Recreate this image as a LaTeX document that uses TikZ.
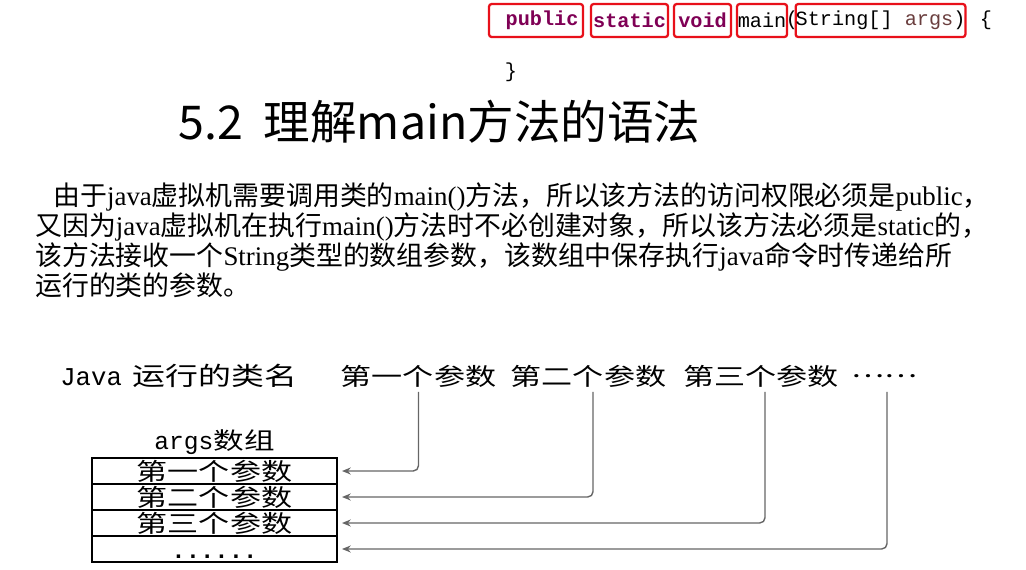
\documentclass[tikz,border=0pt]{standalone}
\usepackage{fontspec}
\setmainfont{Liberation Serif}
\newfontfamily\cjk{Noto Sans CJK SC}
\newfontfamily\cjkwide[FakeStretch=1.3]{Noto Sans CJK SC}
\newfontfamily\codefont{Liberation Mono}
\usetikzlibrary{positioning,arrows.meta}
\definecolor{boxred}{HTML}{E8101A}
\definecolor{kwpurple}{HTML}{7F0055}
\definecolor{argbrown}{HTML}{6A3E3E}
\definecolor{linegray}{HTML}{666666}
\newcommand{\zh}[1]{{\cjk #1}}

\tikzstyle{keybox}=[draw=boxred, line width=1.3pt, rounded corners=1.5pt, inner sep=0pt, minimum height=0.66cm, font=\codefont\fontsize{11.5}{12}\selectfont]
\tikzstyle{codetext}=[inner sep=0pt, font=\codefont\fontsize{11.5}{12}\selectfont]
\tikzstyle{textline}=[anchor=west, inner sep=0pt, font=\fontsize{15.3}{16}\selectfont]
\tikzstyle{colname}=[inner sep=0pt, minimum height=0.62cm, font=\cjkwide\fontsize{13.6}{15}\selectfont]
\tikzstyle{argcell}=[draw, line width=0.8pt, inner sep=0pt, outer sep=0pt, minimum width=4.9cm, text height=0.44cm, text depth=0.08cm, font=\cjkwide\fontsize{13.6}{15}\selectfont]
\tikzstyle{pointto}=[-{Stealth[length=5pt,width=4pt]}, draw=linegray, line width=0.8pt, rounded corners=3pt, shorten >=0.1cm]

\begin{document}
\begin{tikzpicture}[x=0.02cm, y=-0.02cm]
\useasboundingbox (0,0) rectangle (1026,569);
% method signature
\node[keybox, minimum width=1.88cm, text=kwpurple] (pub) at (536,20.5) {\textbf{~public}};
\node[keybox, minimum width=1.54cm, text=kwpurple] (sta) at (629.5,20.5) {\textbf{static}};
\node[keybox, minimum width=1.14cm, text=kwpurple] (voi) at (702.5,20.5) {\textbf{void}};
\node[keybox, minimum width=1.0cm] (mai) at (762,20.5) {main};
\node[codetext] (lpar) at (792,20.5) {(};
\node[keybox, minimum width=3.34cm] (par) at (880.5,20.5) {String[]~\textcolor{argbrown}{args})};
\node[codetext] (lbr) at (986,20.5) {\{};
\node[codetext] (rbr) at (511,72) {\}};

% title and text
\node[anchor=west, inner sep=0pt, font=\cjk\fontsize{26.5}{30}\selectfont] (title) at (178,122) {5.2\ \ 理解main方法的语法};
\node[textline] (l1) at (53,197) {\zh{由于}java\zh{虚拟机需要调用类的}main()\zh{方法，所以该方法的访问权限必须是}public\zh{，}};
\node[textline] (l2) at (35,227) {\zh{又因为}java\zh{虚拟机在执行}main()\zh{方法时不必创建对象，所以该方法必须是}static\zh{的，}};
\node[textline] (l3) at (35,257) {\zh{该方法接收一个}String\zh{类型的数组参数，该数组中保存执行}java\zh{命令时传递给所}};
\node[textline] (l4) at (35,285) {\zh{运行的类的参数。}};

% command line
\node[colname, anchor=west] (cls) at (60,376) {{\codefont\fontsize{14.6}{16}\selectfont Java}\hspace{0.22cm}{\fontsize{14.4}{15}\selectfont 运行的类名}};
\node[colname] (p1) at (418.5,376) {第一个参数};
\node[colname] (p2) at (588.5,376) {第二个参数};
\node[colname] (p3) at (761,376) {第三个参数};
\node[colname] (p4) at (884,376) {……};

% args array
\node[argcell] (r1) at (214.5,471) {第一个参数};
\node[argcell, below=0pt of r1] (r2) {第二个参数};
\node[argcell, below=0pt of r2] (r3) {第三个参数};
\node[argcell, below=0pt of r3] (r4) {{\codefont\bfseries ......}};
\node[above=0.07cm of r1, inner sep=0pt, font=\cjkwide\fontsize{13.4}{15}\selectfont] (lbl) {{\codefont\fontsize{14}{15}\selectfont args}数组};

\draw[pointto] (p1.south) |- (r1.east);
\draw[pointto] ([xshift=0.09cm]p2.south) |- (r2.east);
\draw[pointto] ([xshift=0.08cm]p3.south) |- (r3.east);
\draw[pointto] ([xshift=0.06cm]p4.south) |- (r4.east);
\end{tikzpicture}
\end{document}
